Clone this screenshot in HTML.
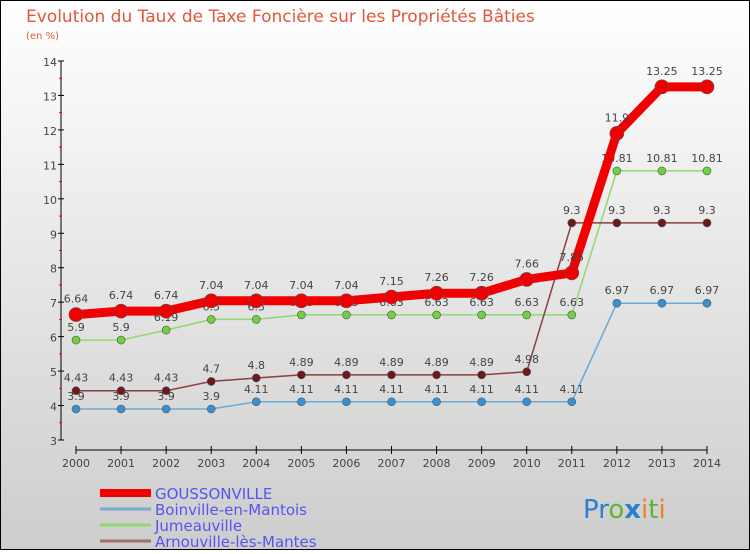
<!DOCTYPE html>
<html><head><meta charset="utf-8"><style>
body{margin:0}
#wrap{position:relative;width:750px;height:550px;font-family:"DejaVu Sans","Liberation Sans",sans-serif}
</style></head><body>
<div id="wrap">
<svg id="svg" width="750" height="550" xmlns="http://www.w3.org/2000/svg">
<defs><linearGradient id="bg" x1="0" y1="0" x2="0" y2="1"><stop offset="0" stop-color="#ffffff"/><stop offset="1" stop-color="#cdcdcd"/></linearGradient></defs>
<rect x="0.5" y="0.5" width="749" height="549" fill="url(#bg)" stroke="#000"/>
<text x="26" y="22" font-size="17" fill="#e0583a">Evolution du Taux de Taxe Foncière sur les Propriétés Bâties</text>
<text x="26" y="39" font-size="10" fill="#e0583a">(en %)</text>
<g id="axes"></g><g id="series"></g><g id="legend"></g>
<text x="583" y="518" font-size="26" font-family="'DejaVu Sans',sans-serif"><tspan fill="#2a7fd0">Pr</tspan><tspan fill="#5cb82e">o</tspan><tspan fill="#2a7fd0" font-weight="bold">x</tspan><tspan fill="#f08020">i</tspan><tspan fill="#5cb82e">t</tspan><tspan fill="#f08020">i</tspan></text>
</svg></div>
<script>
const years=[2000,2001,2002,2003,2004,2005,2006,2007,2008,2009,2010,2011,2012,2013,2014];
const gouss=[6.64,6.74,6.74,7.04,7.04,7.04,7.04,7.15,7.26,7.26,7.66,7.85,11.9,13.25,13.25];
const boin=[3.9,3.9,3.9,3.9,4.11,4.11,4.11,4.11,4.11,4.11,4.11,4.11,6.97,6.97,6.97];
const jume=[5.9,5.9,6.19,6.5,6.5,6.63,6.63,6.63,6.63,6.63,6.63,6.63,10.81,10.81,10.81];
const arno=[4.43,4.43,4.43,4.7,4.8,4.89,4.89,4.89,4.89,4.89,4.98,9.3,9.3,9.3,9.3];
const yTicks=[3,4,5,6,7,8,9,10,11,12,13,14];
const NS="http://www.w3.org/2000/svg";
const X=i=>76+i*(707-76)/14, Y=v=>440-(v-3)*(440-61)/11;
function mk(t,a,p){const e=document.createElementNS(NS,t);for(const k in a)e.setAttribute(k,a[k]);p.appendChild(e);return e;}
const ax=document.getElementById('axes');
let l=mk('line',{x1:61,y1:61,x2:61,y2:440,stroke:'#000'},ax);

l=mk('line',{x1:76,y1:450,x2:707,y2:450,stroke:'#000'},ax);

yTicks.forEach(v=>{mk('line',{x1:58,x2:64,y1:Y(v),y2:Y(v),stroke:'#000'},ax);
 if(v<14)mk('line',{x1:59,x2:62,y1:Y(v+0.5),y2:Y(v+0.5),stroke:'#f00'},ax);
 const t=mk('text',{x:57,y:Y(v)+5,'font-size':11,fill:'#444','text-anchor':'end'},ax);t.textContent=v;
 });
years.forEach((y,i)=>{mk('line',{x1:X(i),x2:X(i),y1:446,y2:454,stroke:'#000'},ax);
 const t=mk('text',{x:X(i),y:467,'font-size':11,fill:'#444','text-anchor':'middle'},ax);t.textContent=y;
 });
const sg=document.getElementById('series');
function draw(vals,color,w,r,name,lc){
 const g=mk('g',{},sg);
 mk('polyline',{points:vals.map((v,i)=>X(i)+','+Y(v)).join(' '),fill:'none',stroke:lc,'stroke-width':w,'stroke-linejoin':'round'},g);
 vals.forEach((v,i)=>{const c=mk('circle',{cx:X(i),cy:Y(v),r:r,fill:color,stroke:'#555','stroke-width':0.6},g);
  
  const t=mk('text',{x:X(i),y:Y(v)-(r+5),'font-size':11,fill:'#444','text-anchor':'middle'},g);t.textContent=v;
  });
}
draw(boin,'#3a8fd0',1.5,4,'boinville-series','#6aaad8');
draw(jume,'#70d040',1.5,4,'jumeauville-series','#90d870');
draw(arno,'#6a1a1a',1.5,4,'arnouville-series','#8a4040');
draw(gouss,'#f00000',9,7,'goussonville-series','#f00000');
const lg=document.getElementById('legend');
[['GOUSSONVILLE','#f00000',8],['Boinville-en-Mantois','#7aaad0',3],['Jumeauville','#90d870',3],['Arnouville-lès-Mantes','#a07070',3]].forEach((d,i)=>{
 const g=mk('g',{},lg);
 const y=493+i*16;
 mk('line',{x1:100,x2:151,y1:y,y2:y,stroke:d[1],'stroke-width':d[2]},g);
 const t=mk('text',{x:155,y:y+6,'font-size':15,fill:'#5555ee'},g);t.textContent=d[0];
});
</script>
</body></html>
